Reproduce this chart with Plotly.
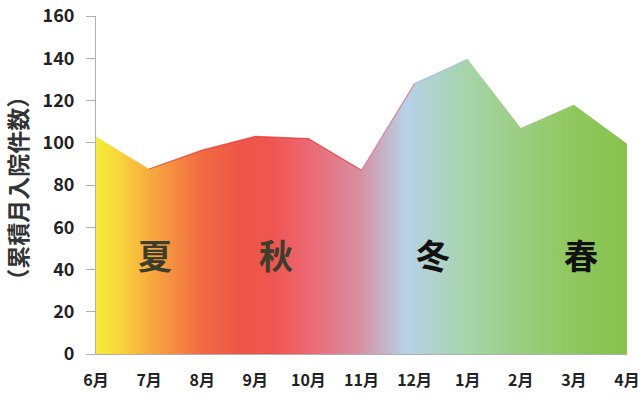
import plotly.graph_objects as go

months = ["6月", "7月", "8月", "9月", "10月", "11月", "12月", "1月", "2月", "3月", "4月"]
admissions = [103, 87.6, 96.5, 103, 102, 87, 128, 139.5, 107, 118, 99.5]
seasons = ["夏", "秋", "冬", "春"]
season_pos = [1.11, 3.39, 6.35, 9.13]
season_colors = ["#3d3d2b", "#3d3d2b", "#111111", "#111111"]
y_ticks = [0, 20, 40, 60, 80, 100, 120, 140, 160]

FONT = "Noto Sans CJK JP"

fig = go.Figure()
fig.add_trace(go.Scatter(
    x=months, y=admissions, mode="lines",
    line=dict(width=0, color="rgba(0,0,0,0)"),
    fill="tozeroy",
    fillgradient=dict(
        type="horizontal",
        colorscale=[
            [0.0, "#f6ec3a"],
            [0.04, "#f8d83a"],
            [0.11, "#f7a440"],
            [0.20, "#f06a42"],
            [0.27, "#ee5646"],
            [0.33, "#ef5550"],
            [0.40, "#ec6874"],
            [0.49, "#d88c9e"],
            [0.585, "#b6d2e8"],
            [0.70, "#a6d4a8"],
            [0.88, "#92c864"],
            [1.0, "#86c24a"],
        ],
    ),
    hoverinfo="skip", showlegend=False,
))
# subtle top edge lines
fig.add_trace(go.Scatter(x=months[1:6], y=admissions[1:6], mode="lines",
                         line=dict(width=1.2, color="rgba(230,40,40,0.7)"),
                         showlegend=False, hoverinfo="skip"))
fig.add_trace(go.Scatter(x=months[5:7], y=admissions[5:7], mode="lines",
                         line=dict(width=1.2, color="rgba(225,100,120,0.7)"),
                         showlegend=False, hoverinfo="skip"))
fig.add_trace(go.Scatter(x=months[6:8], y=admissions[6:8], mode="lines",
                         line=dict(width=1.2, color="rgba(160,190,230,0.8)"),
                         showlegend=False, hoverinfo="skip"))

for s, p, c in zip(seasons, season_pos, season_colors):
    fig.add_annotation(x=p, y=47, xref="x", yref="y", text=s, showarrow=False,
                       font=dict(family=FONT, size=34, color=c, weight="bold"))

fig.add_annotation(x=-0.148, y=0.49, xref="paper", yref="paper", text="（累積月入院件数）",
                   textangle=-90, showarrow=False, xanchor="center", yanchor="middle",
                   font=dict(family=FONT, size=23, color="#333333", weight="bold"))

fig.update_layout(
    width=639, height=398,
    margin=dict(l=96, r=12, t=16, b=44),
    paper_bgcolor="white", plot_bgcolor="white",
    xaxis=dict(range=[0, 10], showgrid=False, showline=True, linecolor="#b0b0b0",
               linewidth=1, ticks="", ticklabelstandoff=12, automargin=False,
               tickfont=dict(family=FONT, size=16, color="#222222", weight="bold"),
               zeroline=False),
    yaxis=dict(range=[0, 160], tickvals=y_ticks, showgrid=False, showline=True,
               linecolor="#b0b0b0", linewidth=1, ticks="outside", ticklen=9,
               tickcolor="#b0b0b0", ticklabelstandoff=8, automargin=False,
               tickfont=dict(family=FONT, size=18, color="#222222", weight="bold"),
               zeroline=False),
)

fig.write_html("out.html", config={"displayModeBar": False},
               post_script="document.body.style.margin='0';document.body.style.overflow='hidden';")
